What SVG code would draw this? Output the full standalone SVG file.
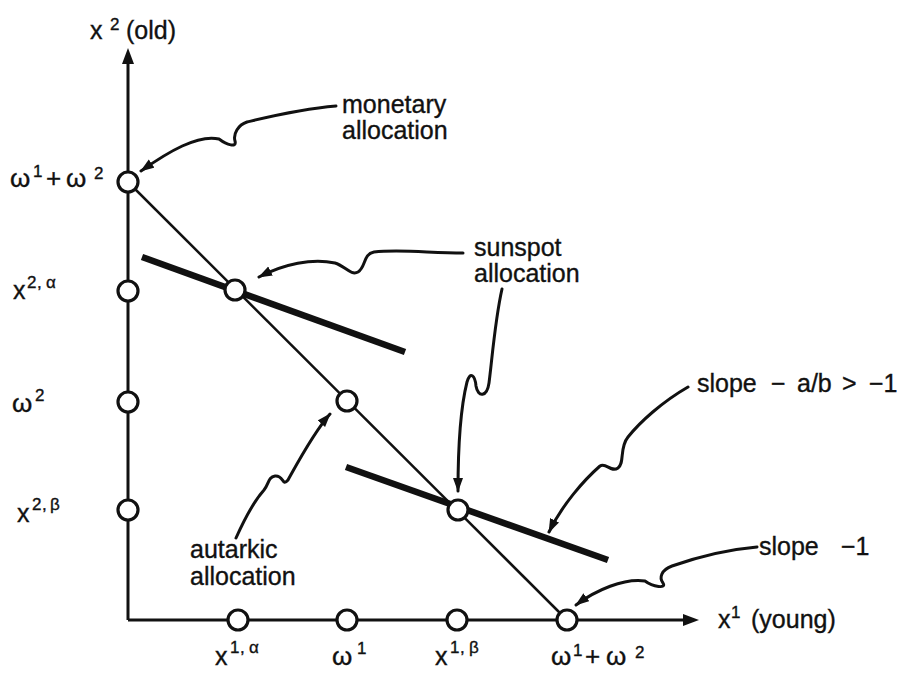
<svg xmlns="http://www.w3.org/2000/svg" width="903" height="673" viewBox="0 0 903 673">
<style>
.t{font-family:"Liberation Sans",Arial,"DejaVu Sans",sans-serif;font-size:25px;fill:#111;stroke:#111;stroke-width:0.35}
.s{font-size:17px}
.g{font-size:26px}
.ax{stroke:#111;stroke-width:3;fill:none}
.diag{stroke:#111;stroke-width:2.5;fill:none}
.thick{stroke:#111;stroke-width:6.5;fill:none}
.call{stroke:#111;stroke-width:3;fill:none;stroke-linecap:round;stroke-linejoin:round}
.pt{fill:#fff;stroke:#111;stroke-width:3.2}
.head{fill:#111}
</style>
<defs>
<marker id="ah" markerUnits="userSpaceOnUse" markerWidth="16" markerHeight="12" refX="13" refY="5" orient="auto"><path d="M0,0 L14,5 L0,10 Z" fill="#111"/></marker>
</defs>
<rect width="903" height="673" fill="#fff"/>

<g id="connectors">
<line class="ax" x1="128" y1="620" x2="128" y2="60"/>
<path class="head" d="M128,48 L122,64 L134,64 Z"/>
<line class="ax" x1="128" y1="620" x2="686" y2="620"/>
<path class="head" d="M699,620 L683,614 L683,626 Z"/>
<line class="diag" x1="128" y1="182" x2="567" y2="620"/>
<line class="thick" x1="142" y1="257" x2="405" y2="352"/>
<line class="thick" x1="346" y1="467" x2="608" y2="560"/>
<path class="call" marker-end="url(#ah)" d="M336,106 C300,109 268,117 247,122 C238,125 233,134 235,141 C237,148 227,145 219,139 C198,134 168,152 141,171"/>
<path class="call" marker-end="url(#ah)" d="M463,253 C430,253 400,249 374,252 C363,254 366,267 358,272 C351,276 345,266 335,263 C312,258 284,264 259,277"/>
<path class="call" marker-end="url(#ah)" d="M502,289 C495,320 492,360 489,383 C487,397 478,398 476,386 C475,375 470,371 467,382 C460,410 458,450 458,491"/>
<path class="call" marker-end="url(#ah)" d="M688,387 C662,402 640,422 628,437 C619,448 625,463 618,468 C611,473 606,462 600,466 C584,480 562,505 549,532"/>
<path class="call" marker-end="url(#ah)" d="M757,547 C722,550 692,559 672,566 C661,570 659,578 663,583 C667,589 653,587 645,581 C624,578 596,590 576,605"/>
<path class="call" marker-end="url(#ah)" d="M236,538 C245,518 255,500 264,490 C269,484 268,477 275,476 C284,475 282,487 288,480 C298,462 314,432 330,414"/>
</g>

<g id="n-y-total"><circle class="pt" cx="128" cy="182" r="10"/></g>
<g id="n-y-x2alpha"><circle class="pt" cx="128" cy="291" r="10"/></g>
<g id="n-y-omega2"><circle class="pt" cx="128" cy="402" r="10"/></g>
<g id="n-y-x2beta"><circle class="pt" cx="128" cy="510" r="10"/></g>
<g id="n-sunspot-alpha"><circle class="pt" cx="235" cy="290" r="10"/></g>
<g id="n-autarkic"><circle class="pt" cx="347" cy="401" r="10"/></g>
<g id="n-sunspot-beta"><circle class="pt" cx="458" cy="510" r="10"/></g>
<g id="n-x-x1alpha"><circle class="pt" cx="238" cy="620" r="10"/></g>
<g id="n-x-omega1"><circle class="pt" cx="347" cy="620" r="10"/></g>
<g id="n-x-x1beta"><circle class="pt" cx="457" cy="620" r="10"/></g>
<g id="n-x-total"><circle class="pt" cx="567" cy="620" r="10"/></g>

<g id="labels">
<text class="t" x="90" y="39">x<tspan class="s" x="110" y="30">2</tspan><tspan x="126" y="39">(old)</tspan></text>
<text class="t" x="718" y="628">x<tspan class="s" x="731" y="618">1</tspan><tspan x="751" y="628">(young)</tspan></text>

<text class="t g" x="10" y="187">ω<tspan class="s" x="33" y="177">1</tspan><tspan x="46" y="187">+</tspan><tspan x="66" y="187">ω</tspan><tspan class="s" x="94" y="179">2</tspan></text>
<text class="t" x="13" y="299">x<tspan class="s" x="27" y="288">2</tspan><tspan class="s" x="37" y="288">,</tspan><tspan class="s" x="46" y="288">α</tspan></text>
<text class="t g" x="12" y="412">ω<tspan class="s" x="35" y="401">2</tspan></text>
<text class="t" x="17" y="522">x<tspan class="s" x="32" y="510">2</tspan><tspan class="s" x="42" y="510">,</tspan><tspan class="s" x="50" y="510">β</tspan></text>

<text class="t" x="215" y="665">x<tspan class="s" x="230" y="653">1</tspan><tspan class="s" x="240" y="653">,</tspan><tspan class="s" x="249" y="653">α</tspan></text>
<text class="t g" x="332" y="665">ω<tspan class="s" x="357" y="654">1</tspan></text>
<text class="t" x="435" y="665">x<tspan class="s" x="450" y="653">1</tspan><tspan class="s" x="460" y="653">,</tspan><tspan class="s" x="469" y="653">β</tspan></text>
<text class="t g" x="551" y="665">ω<tspan class="s" x="573" y="656">1</tspan><tspan x="585" y="665">+</tspan><tspan x="606" y="665">ω</tspan><tspan class="s" x="635" y="658">2</tspan></text>

<text class="t" x="342" y="113">monetary</text>
<text class="t" x="342" y="139">allocation</text>
<text class="t" x="474" y="256">sunspot</text>
<text class="t" x="474" y="282">allocation</text>
<text class="t" x="190" y="558">autarkic</text>
<text class="t" x="190" y="585">allocation</text>
<text class="t" x="697" y="392">slope<tspan x="771">−</tspan><tspan x="797">a/b</tspan><tspan x="842">&gt;</tspan><tspan x="869">−1</tspan></text>
<text class="t" x="759" y="555">slope<tspan x="841">−1</tspan></text>
</g>
</svg>
